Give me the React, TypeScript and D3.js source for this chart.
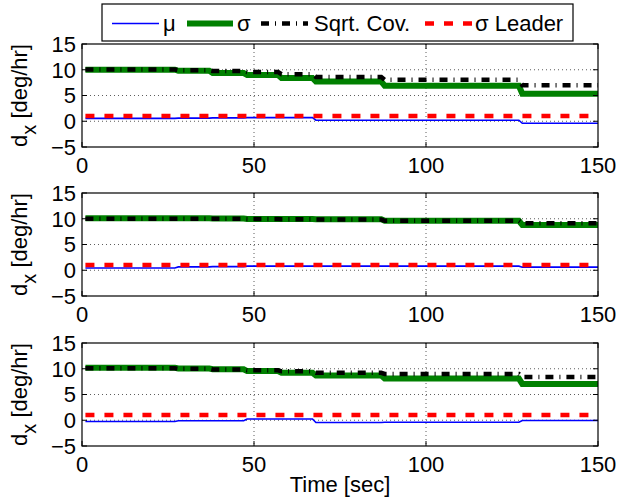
import React from "react";
import * as d3 from "d3";

// segment start times [sec]; every series holds one value per segment
const segStarts = [1, 27, 37, 47, 57, 67, 87, 127];
const tEnd = 150;

const mu1 = [0.55, 0.6, 0.65, 0.7, 0.7, 0.2, 0.2, -0.4];
const sigma1 = [10, 9.8, 9.35, 9.0, 8.4, 7.7, 6.9, 5.35];
const cov1 = [10.05, 9.9, 9.75, 9.55, 9.15, 8.6, 8.05, 7.0];

const mu2 = [0.45, 0.65, 0.7, 0.8, 0.8, 0.8, 0.8, 0.6];
const sigma2 = [10.1, 10.1, 10.05, 9.95, 9.95, 9.9, 9.6, 8.8];
const cov2 = [10.0, 10.0, 10.0, 9.95, 9.9, 9.85, 9.6, 9.15];

const mu3 = [-0.25, -0.1, -0.1, 0.25, 0.25, -0.45, -0.4, -0.05];
const sigma3 = [10.2, 10.05, 9.9, 9.55, 9.2, 8.7, 8.1, 7.05];
const cov3 = [10.1, 10.0, 9.85, 9.7, 9.5, 9.2, 9.0, 8.4];

const leaderSigma = 1;

const xTicks = [0, 50, 100, 150];
const yTicks = [-5, 0, 5, 10, 15];
const legendLabels = ["\u03bc", "\u03c3", "Sqrt. Cov.", "\u03c3 Leader"];

const panels = [
  { mu: mu1, sigma: sigma1, cov: cov1 },
  { mu: mu2, sigma: sigma2, cov: cov2 },
  { mu: mu3, sigma: sigma3, cov: cov3 },
];

const W = 619, H = 504;
const left = 82, right = 598;
const panelTops = [44, 193, 343];
const panelH = 103;
const font = "'Liberation Sans', Arial, Helvetica, sans-serif";
const fs = 22;

const styles = [
  { stroke: "#0000ff", width: 1.6, dash: null },
  { stroke: "#008000", width: 6, dash: null },
  { stroke: "#000000", width: 4.5, dash: "8,6,1,6" },
  { stroke: "#ff0000", width: 4.5, dash: "9,10" },
];

// step series with a one-second ramp between segments
function stepPoints(vals: number[]): [number, number][] {
  const pts: [number, number][] = [];
  vals.forEach((v, i) => {
    const s = i === 0 ? segStarts[0] : segStarts[i] + 1;
    const e = i < vals.length - 1 ? segStarts[i + 1] : tEnd;
    pts.push([s, v]);
    pts.push([e, v]);
  });
  return pts;
}

const fmt = (v: number) => (v < 0 ? "\u2212" + Math.abs(v) : String(v));

function Panel({ top, data }: any) {
  const x = d3.scaleLinear().domain([0, 150]).range([left, right]);
  const y = d3.scaleLinear().domain([-5, 15]).range([top + panelH, top]);
  const line = d3.line<[number, number]>().x((d) => x(d[0])).y((d) => y(d[1]));

  const series = [
    stepPoints(data.mu),
    stepPoints(data.sigma),
    stepPoints(data.cov),
    [[segStarts[0], leaderSigma], [tEnd, leaderSigma]] as [number, number][],
  ];
  const cy = top + panelH / 2;

  return (
    <g>
      <rect x={left} y={top} width={right - left} height={panelH} fill="#fff" />
      {xTicks.slice(1, -1).map((t) => (
        <line key={"gx" + t} x1={x(t)} x2={x(t)} y1={top} y2={top + panelH}
          stroke="#333" strokeWidth={0.8} strokeDasharray="1,3" />
      ))}
      {yTicks.slice(1, -1).map((t) => (
        <line key={"gy" + t} x1={left} x2={right} y1={y(t)} y2={y(t)}
          stroke="#333" strokeWidth={0.8} strokeDasharray="1,3" />
      ))}
      {series.map((pts, i) => (
        <path key={i} d={line(pts) || ""} fill="none" stroke={styles[i].stroke}
          strokeWidth={styles[i].width} strokeDasharray={styles[i].dash || undefined} />
      ))}
      <rect x={left} y={top} width={right - left} height={panelH} fill="none" stroke="#000" strokeWidth={1.2} />
      {xTicks.map((t) => (
        <g key={"tx" + t}>
          <line x1={x(t)} x2={x(t)} y1={top + panelH} y2={top + panelH - 5} stroke="#000" />
          <line x1={x(t)} x2={x(t)} y1={top} y2={top + 5} stroke="#000" />
          <text x={x(t)} y={top + panelH + 26} textAnchor="middle" fontSize={fs} fontFamily={font}>{t}</text>
        </g>
      ))}
      {yTicks.map((t) => (
        <g key={"ty" + t}>
          <line x1={left} x2={left + 5} y1={y(t)} y2={y(t)} stroke="#000" />
          <line x1={right} x2={right - 5} y1={y(t)} y2={y(t)} stroke="#000" />
          <text x={left - 6} y={y(t)} dy="0.36em" textAnchor="end" fontSize={fs} fontFamily={font}>{fmt(t)}</text>
        </g>
      ))}
      <text transform={`translate(27,${cy}) rotate(-90)`} textAnchor="middle" fontSize={fs} fontFamily={font}>
        d<tspan dy={9} fontSize={fs - 2}>x</tspan><tspan dy={-9}> [deg/hr]</tspan>
      </text>
    </g>
  );
}

function Legend() {
  const bx = 102, by = 4, bw = 471, bh = 37;
  const cy = by + bh / 2 + 1;
  const items = [
    { x0: 112, x1: 159, tx: 163 },
    { x0: 187, x1: 233, tx: 237 },
    { x0: 261, x1: 308, tx: 314 },
    { x0: 425, x1: 472, tx: 475 },
  ];
  return (
    <g>
      <rect x={bx} y={by} width={bw} height={bh} fill="#fff" stroke="#000" strokeWidth={1.2} />
      {items.map((it, i) => (
        <g key={i}>
          <line x1={it.x0} x2={it.x1} y1={cy} y2={cy} stroke={styles[i].stroke}
            strokeWidth={styles[i].width} strokeDasharray={styles[i].dash || undefined} />
          <text x={it.tx} y={cy} dy="0.36em" fontSize={fs} fontFamily={font}>{legendLabels[i]}</text>
        </g>
      ))}
    </g>
  );
}

export default function App() {
  return (
    <svg width={W} height={H} style={{ position: "absolute", left: 0, top: 0, background: "#fff" }}>
      <rect width={W} height={H} fill="#fff" />
      {panels.map((p, i) => (
        <Panel key={i} top={panelTops[i]} data={p} />
      ))}
      <Legend />
      <text x={(left + right) / 2} y={492} textAnchor="middle" fontSize={fs} fontFamily={font}>Time [sec]</text>
    </svg>
  );
}
